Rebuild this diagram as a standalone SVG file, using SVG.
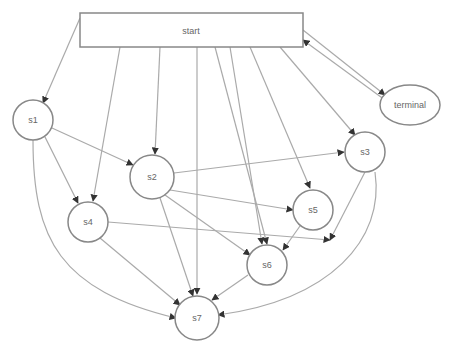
<svg xmlns="http://www.w3.org/2000/svg" width="456" height="342" viewBox="0 0 456 342">
<style>
.n{fill:#fff;stroke:#888;stroke-width:1.5}
.e{fill:none;stroke:#aaa;stroke-width:1.2;marker-end:url(#a)}
.t{font-family:"Liberation Sans",sans-serif;font-size:9px;fill:#666;text-anchor:middle}
</style>
<defs><marker id="a" viewBox="0 0 10 10" refX="9" refY="5" markerWidth="6" markerHeight="6" orient="auto"><path d="M0,0L10,5L0,10z" fill="#333"/></marker></defs>
<rect width="456" height="342" fill="#fff"/>
<g id="edges">
<path class="e" d="M80,18 L43,103"/>
<path class="e" d="M303,30 L385,95"/>
<path class="e" d="M385,100 L303,40"/>
<path class="e" d="M197,47 L197,294"/>
<path class="e" d="M230,47 L262,244"/>
<path class="e" d="M250,47 L310,188"/>
<path class="e" d="M215,47 L267,244"/>
<path class="e" d="M280,47 L355,135"/>
<path class="e" d="M120,47 L93,201"/>
<path class="e" d="M160,47 L155,154"/>
<path class="e" d="M52,128 L133,165"/>
<path class="e" d="M45,137 L78,203"/>
<path class="e" d="M174,173 L344,152"/>
<path class="e" d="M170,190 L293,210"/>
<path class="e" d="M165,195 L250,255"/>
<path class="e" d="M160,198 L193,296"/>
<path class="e" d="M108,222 L330,240"/>
<path class="e" d="M100,238 L180,305"/>
<path class="e" d="M33,140 C33,240 60,290 176,318"/>
<path class="e" d="M375,172 C385,240 330,300 218,315"/>
<path class="e" d="M248,275 L212,300"/>
<path class="e" d="M300,226 L283,250"/>
<path class="e" d="M365,172 L330,240"/>
</g>
<g id="start"><rect class="n" x="80" y="13" width="223" height="34"/><text class="t" x="191" y="34">start</text></g>
<g id="end"><ellipse class="n" cx="410" cy="105" rx="30" ry="20"/><text class="t" x="410" y="108">terminal</text></g>
<g id="s1"><circle class="n" cx="33" cy="120" r="20"/><text class="t" x="33" y="123">s1</text></g>
<g id="s2"><circle class="n" cx="152" cy="177" r="22"/><text class="t" x="152" y="180">s2</text></g>
<g id="s3"><circle class="n" cx="365" cy="152" r="20"/><text class="t" x="365" y="155">s3</text></g>
<g id="s4"><circle class="n" cx="88" cy="222" r="20"/><text class="t" x="88" y="225">s4</text></g>
<g id="s5"><circle class="n" cx="313" cy="210" r="20"/><text class="t" x="313" y="213">s5</text></g>
<g id="s6"><circle class="n" cx="267" cy="265" r="20"/><text class="t" x="267" y="268">s6</text></g>
<g id="s7"><circle class="n" cx="197" cy="318" r="22"/><text class="t" x="197" y="321">s7</text></g>
</svg>
